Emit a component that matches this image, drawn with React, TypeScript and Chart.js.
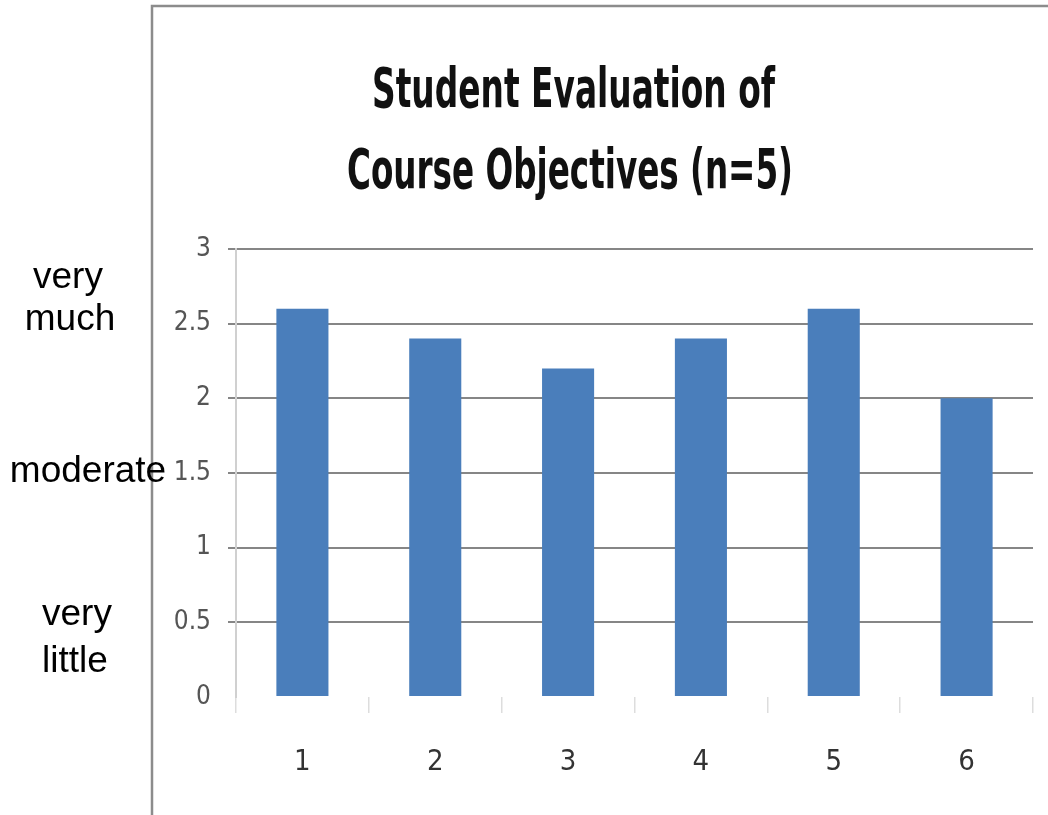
import React, { useEffect, useRef } from "react";
import { Chart, registerables } from "chart.js";

Chart.register(...registerables);

const categories = ["1", "2", "3", "4", "5", "6"];
const ratings = [2.6, 2.4, 2.2, 2.4, 2.6, 2.0];
const titleLines = ["Student Evaluation of", "Course Objectives (n=5)"];
const yMin = 0;
const yMax = 3;
const yStep = 0.5;
const sideLabels = ["very", "much", "moderate", "very", "little"];

const NARROW = '"Liberation Sans Narrow", "Arial Narrow", "DejaVu Sans Condensed", sans-serif';
const W = 1048;
const H = 815;

const framePlugin = {
  id: "frame",
  beforeDraw(chart: any) {
    const ctx = chart.ctx;
    ctx.save();
    ctx.fillStyle = "#ffffff";
    ctx.fillRect(0, 0, W, H);
    ctx.strokeStyle = "#8c8c8c";
    ctx.lineWidth = 2.5;
    ctx.beginPath();
    ctx.moveTo(152, H);
    ctx.lineTo(152, 6);
    ctx.lineTo(W, 6);
    ctx.stroke();
    ctx.restore();
  },
};

const titlePlugin = {
  id: "narrowTitle",
  afterDraw(chart: any) {
    const ctx = chart.ctx;
    const specs = [
      { cx: 573.5, base: 107, w: 403 },
      { cx: 570, base: 188, w: 446 },
    ];
    ctx.save();
    ctx.font = `bold 56px ${NARROW}`;
    ctx.fillStyle = "#111111";
    ctx.textBaseline = "alphabetic";
    ctx.textAlign = "left";
    titleLines.forEach((t, i) => {
      const s = specs[i];
      const nat = ctx.measureText(t).width;
      const k = s.w / nat;
      ctx.save();
      ctx.translate(s.cx - s.w / 2, s.base);
      ctx.scale(k, 1);
      ctx.fillText(t, 0, 0);
      ctx.restore();
    });
    ctx.restore();
  },
};

const sidePos = [
  { cx: 68, top: 256.7 },
  { cx: 70, top: 298.7 },
  { cx: 88, top: 450.7 },
  { cx: 77, top: 593.7 },
  { cx: 75, top: 640.7 },
];

export default function App() {
  const ref = useRef<HTMLCanvasElement | null>(null);

  useEffect(() => {
    if (!ref.current) return;
    const chart = new Chart(ref.current, {
      type: "bar",
      data: {
        labels: categories,
        datasets: [
          {
            data: ratings,
            backgroundColor: "#4a7ebb",
            categoryPercentage: 0.8,
            barPercentage: 0.49,
          },
        ],
      },
      options: {
        responsive: false,
        animation: false,
        devicePixelRatio: 1,
        layout: { padding: { left: 152, right: 15, top: 249, bottom: 0 } },
        plugins: {
          legend: { display: false },
          title: { display: false },
          tooltip: { enabled: false },
        },
        scales: {
          x: {
            grid: {
              display: true,
              drawOnChartArea: false,
              drawTicks: true,
              tickLength: 16,
              color: "#dddddd",
              lineWidth: 1.5,
              offset: true,
            },
            border: { display: false },
            ticks: {
              font: { family: NARROW, size: 29 },
              color: "#333333",
              padding: 32,
            },
            afterFit: (s: any) => {
              s.height = 118;
            },
          },
          y: {
            min: yMin,
            max: yMax,
            ticks: {
              stepSize: yStep,
              font: { family: NARROW, size: 26 },
              color: "#555555",
              padding: 17,
              callback: (v: any) => String(Number(v)),
            },
            grid: {
              color: (c: any) =>
                c.tick && c.tick.value === 0 ? "rgba(0,0,0,0)" : "#868686",
              lineWidth: 2,
              tickLength: 8,
            },
            border: { display: true, color: "#d0d0d0", width: 2 },
            afterFit: (s: any) => {
              s.width = 84;
            },
          },
        },
      } as any,
      plugins: [framePlugin, titlePlugin],
    });
    return () => chart.destroy();
  }, []);

  return (
    <div
      style={{
        position: "absolute",
        left: 0,
        top: 0,
        width: W,
        height: H,
        background: "#ffffff",
        overflow: "hidden",
      }}
    >
      <canvas ref={ref} width={W} height={H} style={{ display: "block" }} />
      {sideLabels.map((t, i) => (
        <div
          key={i}
          style={{
            position: "absolute",
            left: sidePos[i].cx - 100,
            top: sidePos[i].top,
            width: 200,
            textAlign: "center",
            fontFamily: '"Liberation Sans", Arial, sans-serif',
            fontSize: 37,
            lineHeight: "37px",
            color: "#000000",
            whiteSpace: "nowrap",
          }}
        >
          {t}
        </div>
      ))}
    </div>
  );
}
